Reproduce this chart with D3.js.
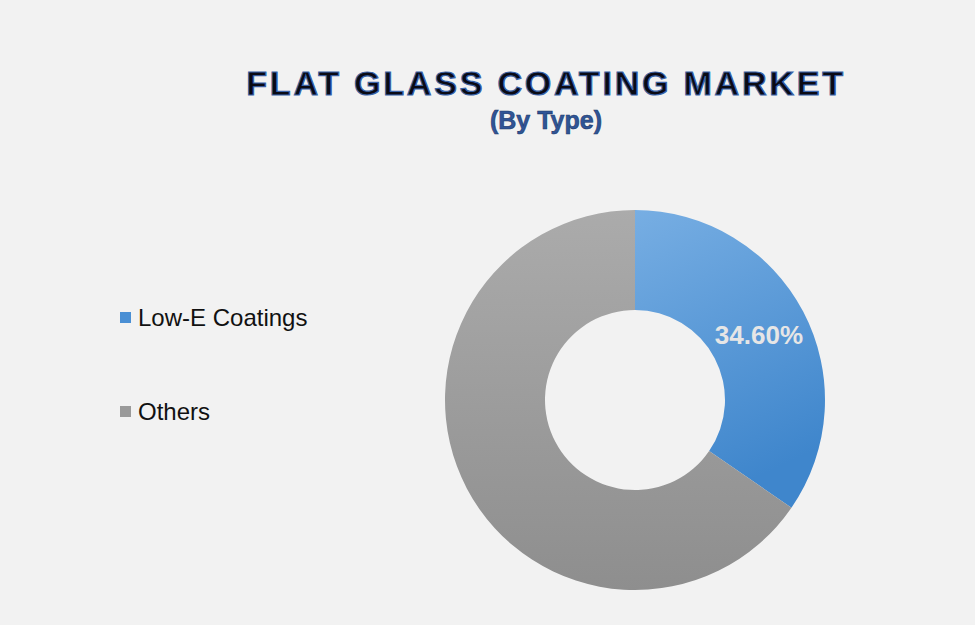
<!DOCTYPE html>
<html><head><meta charset="utf-8">
<script src="https://cdn.jsdelivr.net/npm/d3@7"></script>
<style>body{margin:0;background:#f2f2f2}</style></head>
<body><svg id="c" width="975" height="625"></svg>
<script>
const categories = ["Low-E Coatings", "Others"];
const values = [34.6, 65.4];
const labels = ["34.60%", ""];
const svg = d3.select("#c");
svg.append("rect").attr("width",975).attr("height",625).attr("fill","#f2f2f2");
const defs = svg.append("defs");
const g1 = defs.append("linearGradient").attr("id","gb").attr("x1","0").attr("y1","0").attr("x2","0.3").attr("y2","1");
g1.append("stop").attr("offset","0").attr("stop-color","#77aee3");
g1.append("stop").attr("offset","1").attr("stop-color","#3f86cc");
const g2 = defs.append("linearGradient").attr("id","gg").attr("x1","0").attr("y1","0").attr("x2","0").attr("y2","1");
g2.append("stop").attr("offset","0").attr("stop-color","#ababab");
g2.append("stop").attr("offset","1").attr("stop-color","#8e8e8e");
const fills = ["url(#gb)","url(#gg)"];
const legendColors = ["#4a8fd4","#9a9a9a"];
svg.append("text").attr("x",546).attr("y",95).attr("text-anchor","middle")
  .attr("font-family","Liberation Sans, Arial").attr("font-weight","bold").attr("font-size",34)
  .attr("letter-spacing",2.8).attr("fill","#0a0a14").attr("stroke","#3a63a8").attr("stroke-width",1.2)
  .text("FLAT GLASS COATING MARKET");
svg.append("text").attr("x",546).attr("y",129).attr("text-anchor","middle")
  .attr("font-family","Liberation Sans, Arial").attr("font-weight","bold").attr("font-size",25)
  .attr("fill","#2f5597").attr("stroke","#1f3a6b").attr("stroke-width",0.6)
  .text("(By Type)");
const cx=635, cy=400;
const pie = d3.pie().sort(null).value(d=>d)(values);
const arc = d3.arc().innerRadius(90).outerRadius(190);
const gp = svg.append("g").attr("transform",`translate(${cx},${cy})`);
gp.selectAll("path").data(pie).join("path").attr("d",arc).attr("fill",(d,i)=>fills[i]);
const la = d3.arc().innerRadius(140).outerRadius(140);
gp.selectAll("text").data(pie).join("text")
  .attr("transform",d=>{const c=la.centroid(d);return `translate(${c[0]},${c[1]})`;})
  .attr("text-anchor","middle").attr("dy","0.35em")
  .attr("font-family","Liberation Sans, Arial").attr("font-weight","bold").attr("font-size",26)
  .attr("fill","#e6e6e6").text((d,i)=>labels[i]);
const lg = svg.append("g");
categories.forEach((c,i)=>{
  const y = 318 + i*94;
  lg.append("rect").attr("x",120).attr("y",y-6).attr("width",11).attr("height",11).attr("fill",legendColors[i]);
  lg.append("text").attr("x",138).attr("y",y).attr("dy","0.35em")
    .attr("font-family","Liberation Sans, Arial").attr("font-size",24).attr("fill","#111").text(c);
});
</script></body></html>
